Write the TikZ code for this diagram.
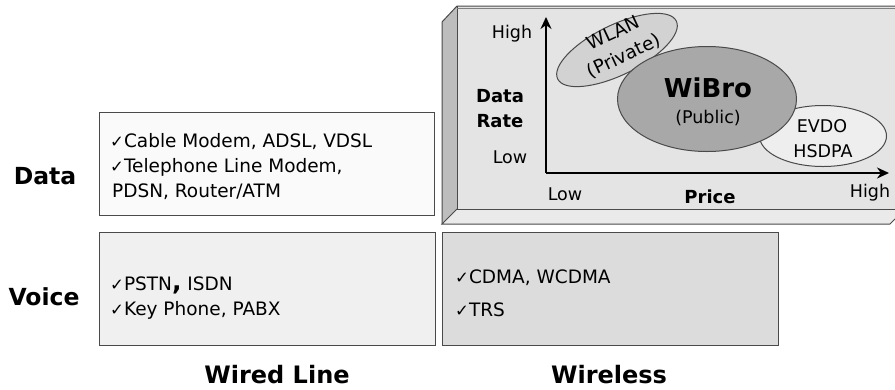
\documentclass[tikz,border=0pt]{standalone}
\usepackage{fontspec}
\setmainfont{DejaVu Sans}
\usetikzlibrary{shapes.geometric,arrows.meta}
\definecolor{panelfront}{HTML}{E4E4E4}
\definecolor{panelside}{HTML}{BDBDBD}
\definecolor{panelbottom}{HTML}{EAEAEA}
\definecolor{edge}{HTML}{4A4A4A}
\definecolor{wiredata}{HTML}{FAFAFA}
\definecolor{wirevoice}{HTML}{F0F0F0}
\definecolor{wlessvoice}{HTML}{DCDCDC}
\definecolor{wibrofill}{HTML}{A8A8A8}
\definecolor{wlanfill}{HTML}{D2D2D2}
\definecolor{evdofill}{HTML}{EEEEEE}
\newcommand{\ck}{{\fontsize{16.5bp}{16.5bp}\selectfont ✓}}
\begin{document}
\begin{tikzpicture}[x=1bp,y=-1bp,
  cellbox/.style={draw=edge, line width=1.3bp, inner sep=0, anchor=north west},
  rowlbl/.style={font=\fontsize{23.5bp}{26bp}\selectfont\bfseries, anchor=base, inner sep=0},
  collbl/.style={font=\fontsize{24bp}{28bp}\selectfont\bfseries, anchor=base, inner sep=0},
  item/.style={font=\fontsize{18.5bp}{20bp}\selectfont, anchor=base west, inner sep=0},
  chart/.style={font=\fontsize{17.5bp}{20bp}\selectfont, anchor=base, inner sep=0},
  chartb/.style={font=\fontsize{18bp}{20bp}\selectfont\bfseries, anchor=base, inner sep=0},
  oval/.style={ellipse, draw=edge, line width=1bp, inner sep=0},
  axis/.style={line width=2.6bp, -{Stealth[length=12bp,width=11bp]}}
]
\useasboundingbox (0,0) rectangle (895,389);
% 3D panel
\fill[panelside] (442,22) -- (457,6) -- (457,209) -- (442,224) -- cycle;
\fill[panelbottom] (442,224) -- (457,209) -- (895,209) -- (895,219) -- (890,224) -- cycle;
\fill[panelfront] (457,6) rectangle (895,209);
\draw[edge, line width=1bp] (442,224) -- (442,22) -- (457,6) -- (895,6);
\draw[edge, line width=1bp] (457,6) -- (457,209) -- (895,209);
\draw[edge, line width=1bp] (457,209) -- (442,224) -- (890,224) -- (895,219);
\draw[gray, line width=0.8bp] (457,8.5) -- (895,8.5);
% cell boxes
\node[cellbox, fill=wiredata, minimum width=335bp, minimum height=103bp] (wdata) at (99,112) {};
\node[cellbox, fill=wirevoice, minimum width=336bp, minimum height=113bp] (wvoice) at (99,232) {};
\node[cellbox, fill=wlessvoice, minimum width=336bp, minimum height=113bp] (lvoice) at (442,232) {};
% row / column labels
\node[rowlbl] (ldata) at (45,184) {Data};
\node[rowlbl] (lvoicelbl) at (44,305) {Voice};
\node[collbl] (lwired) at (277,383) {Wired Line};
\node[collbl] (lwless) at (609,383) {Wireless};
% items
\node[item] (i1) at (110,147) {\ck Cable Modem, ADSL, VDSL};
\node[item] (i2) at (110,172) {\ck Telephone Line Modem,};
\node[item] (i3) at (112,197) {PDSN, Router/ATM};
\node[item] (i4) at (110,290) {\ck PSTN{\fontsize{25bp}{25bp}\selectfont\bfseries,} ISDN};
\node[item] (i5) at (110,315) {\ck Key Phone, PABX};
\node[item] (i6) at (455,283) {\ck CDMA, WCDMA};
\node[item] (i7) at (455,316) {\ck TRS};
% chart
\coordinate (orig) at (546,173);
\coordinate (ytop) at (546,17);
\coordinate (xend) at (889,173);
\draw[axis] (orig) -- (ytop);
\draw[axis] (orig) -- (xend);
\node[oval, fill=evdofill, minimum width=127bp, minimum height=61bp] (evdo) at (823,136) {};
\node[oval, fill=wlanfill, minimum width=132bp, minimum height=50bp, rotate=26] (wlan) at (617,50) {};
\node[oval, fill=wibrofill, minimum width=179bp, minimum height=105bp] (wibro) at (707,99) {};
\node[chart] (hy) at (512,38) {High};
\node[chart] (ly) at (510,163) {Low};
\node[chartb] (dr1) at (500,102) {Data};
\node[chartb] (dr2) at (500,127) {Rate};
\node[chart] (lx) at (565,200) {Low};
\node[chartb] (price) at (710,203) {Price};
\node[chart] (hx) at (870,197) {High};
\node[font=\fontsize{26bp}{28bp}\selectfont\bfseries, anchor=base, inner sep=0] (wibrot) at (708,97) {WiBro};
\node[chart] (publ) at (708,123) {(Public)};
\node[chart] (evdot) at (822,132) {EVDO};
\node[chart] (hsdpa) at (823,157) {HSDPA};
\node[font=\fontsize{18.5bp}{25bp}\selectfont, rotate=25, inner sep=0, align=center] (wlant) at (619,45) {WLAN\\(Private)};
\end{tikzpicture}
\end{document}
